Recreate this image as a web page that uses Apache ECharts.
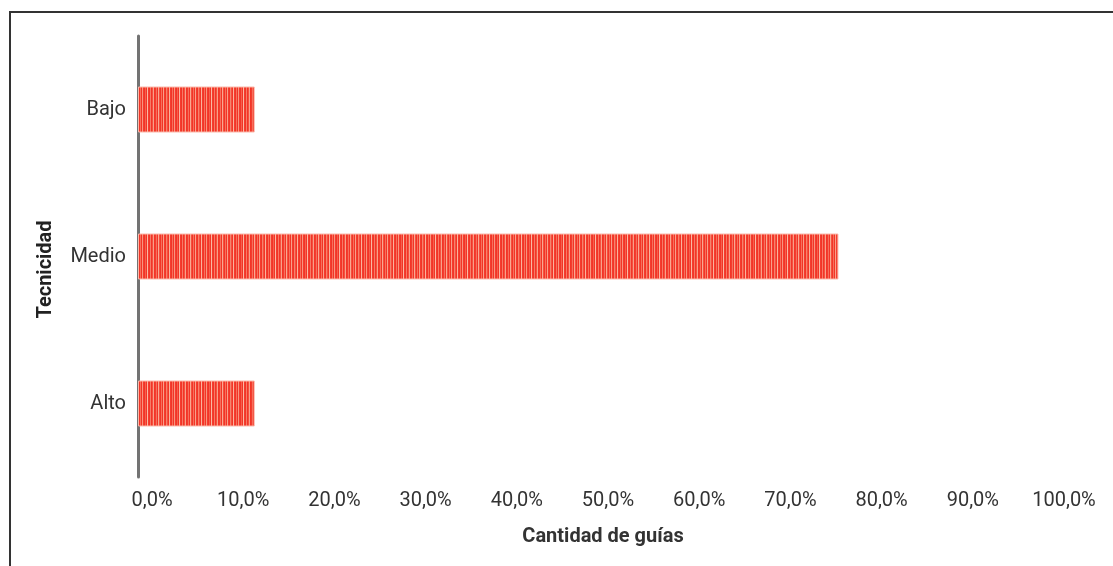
<!DOCTYPE html>
<html><head><meta charset="utf-8">
<script src="https://cdn.jsdelivr.net/npm/echarts@6/dist/echarts.min.js"></script>
<style>
html,body{margin:0;padding:0;background:#fff;}
#frame{position:absolute;left:9px;top:11px;width:1200px;height:600px;border-top:2px solid #333;border-left:2px solid #333;}
#chart{position:absolute;left:0;top:0;width:1113px;height:566px;}
</style></head>
<body>
<div id="frame"></div>
<div id="chart"></div>
<script>
const categories = ['Alto', 'Medio', 'Bajo'];
const values = [12.8, 76.8, 12.8];
const xTicks = [0, 10, 20, 30, 40, 50, 60, 70, 80, 90, 100];
const yName = 'Tecnicidad';
const xName = 'Cantidad de guías';

function stripePattern() {
  const c = document.createElement('canvas');
  const stripes = ['#f23527','#f6705c','#f23527','#f9a08a','#f33d2f','#f23527','#f7826d','#f4513f','#f23527','#fbb29c','#f33d2f','#f23527','#f6705c','#f23527','#f9957f','#f33d2f','#f23527','#f5604d','#f23527','#fbb8a3','#f33d2f','#f23527','#f77a66','#f23527','#f4513f','#f9a08a','#f23527','#f33d2f','#f6705c','#f23527','#faa892','#f4513f'];
  c.width = stripes.length; c.height = 4;
  const ctx = c.getContext('2d');
  stripes.forEach((col, i) => { ctx.fillStyle = col; ctx.fillRect(i, 0, 1, 4); });
  return c;
}

const chart = echarts.init(document.getElementById('chart'), null, {renderer: 'canvas'});
chart.setOption({
  animation: false,
  textStyle: {fontFamily: 'Roboto'},
  grid: {left: 138, top: 36, width: 912, height: 441, containLabel: false},
  xAxis: {
    type: 'value', min: 0, max: 100, interval: 10,
    axisLine: {show: false}, axisTick: {show: false}, splitLine: {show: false},
    axisLabel: {
      color: '#333', fontSize: 20, margin: 14, padding: [0, 0, 0, 28],
      formatter: v => v.toFixed(1).replace('.', ',') + '%'
    },
    name: xName, nameLocation: 'middle', nameGap: 50,
    nameTextStyle: {fontWeight: 'bold', fontSize: 20, color: '#333', padding: [0, 0, 0, 18]}
  },
  yAxis: {
    type: 'category', data: categories,
    axisLine: {show: true, lineStyle: {color: '#737373', width: 3}},
    axisTick: {show: false},
    axisLabel: {color: '#333', fontSize: 20, margin: 12},
    name: yName, nameLocation: 'middle', nameGap: 82, nameRotate: 90,
    nameTextStyle: {fontWeight: 'bold', fontSize: 20, color: '#222', padding: [0, 26, 0, 0]}
  },
  series: [{
    type: 'bar', data: values, barWidth: 46,
    itemStyle: {color: {image: stripePattern(), repeat: 'repeat'}, borderColor: '#fbb9ab', borderWidth: 1}
  }]
});
</script>
</body></html>
